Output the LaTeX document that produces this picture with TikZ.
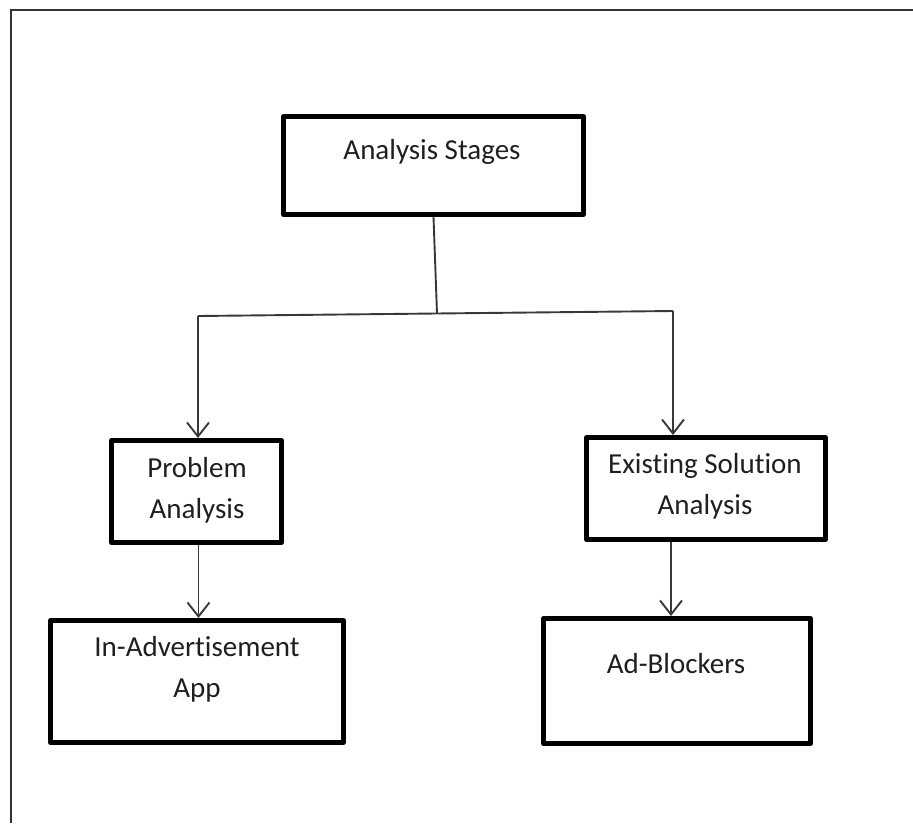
\documentclass[tikz,border=0pt]{standalone}
\usepackage{fontspec}
\setmainfont{Carlito}[Ligatures={NoCommon}]
\usetikzlibrary{arrows.meta}
\begin{document}
\begin{tikzpicture}[x=1pt,y=-1pt,
  stagebox/.style={draw=black,line width=5pt,line join=round,inner sep=0pt,
    minimum width=#1},
  lbl/.style={text=black!88,font=\fontsize{29}{41}\selectfont,align=center,inner sep=0pt},
  conn/.style={draw=black!78,line width=1.9pt},
  arr/.style={conn,-{Straight Barb[length=14pt,width=22pt]}},
  frameline/.style={draw=black!80,line width=1.6pt}]
\useasboundingbox (0,0) rectangle (913,823);
% page frame: top and left edges only
\coordinate (fbl) at (11,823);
\coordinate (ftl) at (11,10);
\coordinate (ftr) at (913,10);
\draw[frameline] (fbl) -- (ftl) -- (ftr);

% boxes
\node[stagebox=300pt,minimum height=98pt] (stages) at (433.5,165.5) {};
\node[stagebox=170pt,minimum height=102pt] (prob) at (196.5,491.5) {};
\node[stagebox=239pt,minimum height=102pt] (exist) at (706,488.5) {};
\node[stagebox=293pt,minimum height=122pt] (inad) at (197,681.5) {};
\node[stagebox=267pt,minimum height=125pt] (adb) at (677,681) {};

% labels
\node[lbl] (tstages) at (432,152) {Analysis Stages};
\node[lbl] (tprob) at (197,490) {Problem\\Analysis};
\node[lbl] (texist) at (705,486) {Existing Solution\\Analysis};
\node[lbl] (tinad) at (197,669) {In-Advertisement\\App};
\node[lbl] (tadb) at (676,664) {Ad-Blockers};

% connectors
\coordinate (join) at (437,313.5);
\coordinate (bl) at (198,316);
\coordinate (br) at (673,311);
\draw[conn] (stages.south) -- (join);
\draw[conn] (bl) -- (br);
\draw[arr] (bl) -- (bl |- prob.north);
\draw[arr] (br) -- (br |- exist.north);
\draw[arr] (prob.south) ++(2,0) coordinate (ps) -- (ps |- inad.north);
\draw[arr] (exist.south) ++(-35,0) coordinate (es) -- (es |- adb.north);
\end{tikzpicture}
\end{document}
